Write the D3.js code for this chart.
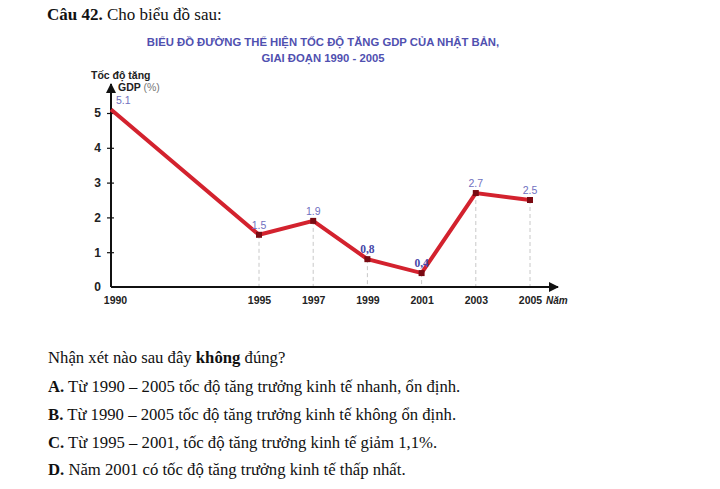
<!DOCTYPE html>
<html>
<head>
<meta charset="utf-8">
<script src="https://cdn.jsdelivr.net/npm/d3@7"></script>
<style>
  body { margin: 0; background: #fff; }
  .serif { font-family: "Liberation Serif", "Times New Roman", serif; fill: #111; }
  .sans { font-family: "Liberation Sans", Arial, sans-serif; }
</style>
</head>
<body>
<div id="main"></div>
<script>
// chart data
const years = [1990, 1995, 1997, 1999, 2001, 2003, 2005];
const gdpGrowth = [5.1, 1.5, 1.9, 0.8, 0.4, 2.7, 2.5];
const valueLabels = ["5.1", "1.5", "1.9", "0,8", "0,4", "2.7", "2.5"];
const yTicks = [0, 1, 2, 3, 4, 5];

const titleLines = ["BIỂU ĐỒ ĐƯỜNG THỂ HIỆN TỐC ĐỘ TĂNG GDP CỦA NHẬT BẢN,",
                    "GIAI ĐOẠN 1990 - 2005"];
const questionLines = [
    {key: "A.", text: " Từ 1990 – 2005 tốc độ tăng trưởng kinh tế nhanh, ổn định."},
    {key: "B.", text: " Từ 1990 – 2005 tốc độ tăng trưởng kinh tế không ổn định."},
    {key: "C.", text: " Từ 1995 – 2001, tốc độ tăng trưởng kinh tế giảm 1,1%."},
    {key: "D.", text: " Năm 2001 có tốc độ tăng trưởng kinh tế thấp nhất."}
];

const ctx = {
    w: 720,
    h: 489,
    RED: "#d3222e",
    MARK: "#7a0a12",
    BLUE: "#5050b0",
};

const svg = d3.select("#main").append("svg")
              .attr("width", ctx.w)
              .attr("height", ctx.h);

// header text
const head = svg.append("text").attr("class", "serif")
                .attr("x", 47).attr("y", 20)
                .style("font-size", "17px");
head.append("tspan").style("font-weight", "bold").text("Câu 42.");
head.append("tspan").text(" Cho biểu đồ sau:");

// chart title
svg.append("g").selectAll("text")
   .data(titleLines)
   .enter()
   .append("text")
   .attr("class", "sans")
   .attr("x", 323)
   .attr("y", (d, i) => 46 + i * 16)
   .attr("text-anchor", "middle")
   .style("font-size", "11.3px")
   .style("font-weight", "bold")
   .style("fill", ctx.BLUE)
   .text(d => d);

// scales (the original axis is hand-spaced: 1990-1995 a bit wider)
const x = d3.scaleLinear().domain([1990, 1995, 2005]).range([111, 259, 530]);
const y = d3.scaleLinear().domain([0, 5]).range([287, 113]);

const plot = svg.append("g");

// dashed drop lines
plot.append("g").selectAll("line")
    .data(years.slice(1).map((yr, i) => ({yr: yr, v: gdpGrowth[i + 1]})))
    .enter()
    .append("line")
    .attr("x1", d => x(d.yr)).attr("x2", d => x(d.yr))
    .attr("y1", d => y(d.v)).attr("y2", y(0))
    .attr("stroke", "#c8c8c8")
    .attr("stroke-width", 1)
    .attr("stroke-dasharray", "4,3");

// axes
svg.append("defs").append("marker")
   .attr("id", "arrow")
   .attr("viewBox", "0 0 10 10")
   .attr("refX", 9).attr("refY", 5)
   .attr("markerWidth", 5).attr("markerHeight", 5)
   .attr("orient", "auto")
   .append("path")
   .attr("d", "M0,0L10,5L0,10z")
   .attr("fill", "#111");

plot.append("line")
    .attr("x1", x(1990)).attr("y1", y(0))
    .attr("x2", 558).attr("y2", y(0))
    .attr("stroke", "#111").attr("stroke-width", 2)
    .attr("marker-end", "url(#arrow)");
plot.append("line")
    .attr("x1", x(1990)).attr("y1", y(0))
    .attr("x2", x(1990)).attr("y2", 84)
    .attr("stroke", "#111").attr("stroke-width", 2)
    .attr("marker-end", "url(#arrow)");

const yAxis = d3.axisLeft(y).tickValues(yTicks).tickSize(0).tickPadding(10)
                .tickFormat(d3.format("d"));
const yG = plot.append("g")
               .attr("transform", `translate(${x(1990)},0)`)
               .call(yAxis);
yG.select(".domain").remove();
yG.selectAll(".tick text")
  .attr("class", "sans")
  .style("font-size", "12px")
  .style("font-weight", "bold")
  .style("fill", "#222");
// small cross ticks
yG.selectAll(".tick").filter(d => d > 0)
  .append("line")
  .attr("x1", -4).attr("x2", 3)
  .attr("stroke", "#111").attr("stroke-width", 1.2);

const xAxis = d3.axisBottom(x).tickValues(years).tickSize(0).tickPadding(10)
                .tickFormat(d3.format("d"));
const xG = plot.append("g")
               .attr("transform", `translate(0,${y(0)})`)
               .call(xAxis);
xG.select(".domain").remove();
xG.selectAll(".tick text")
  .attr("class", "sans")
  .attr("dx", d => d === 1990 ? 4 : 0)
  .style("font-size", "10.5px")
  .style("font-weight", "bold")
  .style("fill", "#222");

// axis titles
svg.append("text").attr("class", "sans")
   .attr("x", 91).attr("y", 79)
   .style("font-size", "10.5px").style("font-weight", "bold")
   .style("fill", "#222")
   .text("Tốc độ tăng");
const gdpT = svg.append("text").attr("class", "sans")
                .attr("x", 118).attr("y", 91)
                .style("font-size", "10.5px").style("font-weight", "bold")
                .style("fill", "#222");
gdpT.append("tspan").text("GDP ");
gdpT.append("tspan").style("fill", "#777").style("font-weight", "normal").text("(%)");

svg.append("text").attr("class", "sans")
   .attr("x", 546).attr("y", 304)
   .style("font-size", "10px").style("font-weight", "bold")
   .style("font-style", "italic")
   .style("fill", "#222")
   .text("Năm");

// line
const pts = years.map((yr, i) => ({yr: yr, v: gdpGrowth[i], label: valueLabels[i]}));
const lineGen = d3.line().x(d => x(d.yr)).y(d => y(d.v));

plot.append("path")
    .datum(pts)
    .attr("d", lineGen)
    .attr("fill", "none")
    .attr("stroke", ctx.RED)
    .attr("stroke-width", 4)
    .attr("stroke-linejoin", "miter");

plot.append("g").selectAll("rect")
    .data(pts.slice(1))
    .enter()
    .append("rect")
    .attr("x", d => x(d.yr) - 3)
    .attr("y", d => y(d.v) - 3)
    .attr("width", 6).attr("height", 6)
    .attr("fill", ctx.MARK);

// value labels
plot.append("g").selectAll("text")
    .data(pts)
    .enter()
    .append("text")
    .attr("x", d => d.yr === 1990 ? x(d.yr) + 5 : x(d.yr))
    .attr("y", d => y(d.v) - 6)
    .attr("text-anchor", d => d.yr === 1990 ? "start" : "middle")
    .style("font-family", d => d.label.indexOf(",") >= 0 ? "Liberation Serif, serif" : "Liberation Sans, Arial, sans-serif")
    .style("font-size", d => d.label.indexOf(",") >= 0 ? "11.5px" : "10.5px")
    .style("font-weight", d => d.label.indexOf(",") >= 0 ? "bold" : "normal")
    .style("fill", d => d.label.indexOf(",") >= 0 ? "#4646a8" : "#7070c0")
    .text(d => d.label);

// question
const q = svg.append("text").attr("class", "serif")
             .attr("x", 48).attr("y", 363)
             .style("font-size", "16.7px");
q.append("tspan").text("Nhận xét nào sau đây ");
q.append("tspan").style("font-weight", "bold").text("không");
q.append("tspan").text(" đúng?");

const opts = svg.append("g").selectAll("text")
                .data(questionLines)
                .enter()
                .append("text")
                .attr("class", "serif")
                .attr("x", 48)
                .attr("y", (d, i) => 392 + i * 27.8)
                .style("font-size", "16.7px");
opts.append("tspan").style("font-weight", "bold").text(d => d.key);
opts.append("tspan").text(d => d.text);
</script>
</body>
</html>
